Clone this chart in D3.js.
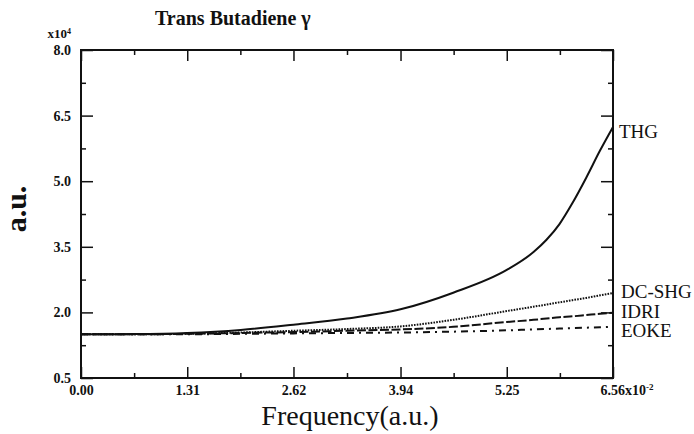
<!DOCTYPE html>
<html>
<head>
<meta charset="utf-8">
<script src="https://cdn.jsdelivr.net/npm/d3@7"></script>
<style>
  body { margin: 0; background: #fff; }
  text { font-family: "Liberation Serif", "Times New Roman", serif; fill: #111; }
</style>
</head>
<body>
<div id="container"></div>
<script>
// values (frequency in 1e-2 a.u., response in 1e4 a.u.)
let freq  = [0, 0.66, 1.31, 1.97, 2.62, 3.28, 3.94, 4.59, 5.25, 5.58, 5.74, 5.90, 6.06, 6.23, 6.40, 6.56];
let thg   = [1.50, 1.505, 1.53, 1.60, 1.72, 1.86, 2.07, 2.45, 2.97, 3.38, 3.66, 4.02, 4.50, 5.08, 5.70, 6.24];
let dcshg = [1.50, 1.50, 1.51, 1.54, 1.58, 1.62, 1.68, 1.83, 2.03, 2.13, 2.18, 2.23, 2.28, 2.33, 2.39, 2.44];
let idri  = [1.50, 1.50, 1.51, 1.53, 1.55, 1.58, 1.61, 1.67, 1.78, 1.83, 1.86, 1.89, 1.91, 1.94, 1.97, 1.99];
let eoke  = [1.50, 1.50, 1.50, 1.51, 1.52, 1.53, 1.54, 1.56, 1.59, 1.61, 1.62, 1.63, 1.64, 1.65, 1.66, 1.67];

let xTicks = [0, 1.31, 2.62, 3.94, 5.25, 6.56];
let xTickLabels = ["0.00", "1.31", "2.62", "3.94", "5.25", "6.56"];
let yTicks = [0.5, 2.0, 3.5, 5.0, 6.5, 8.0];
let yTickLabels = ["0.5", "2.0", "3.5", "5.0", "6.5", "8.0"];
let seriesNames = ["THG", "DC-SHG", "IDRI", "EOKE"];

let w = 694;
let h = 434;
let plotLeft = 81, plotRight = 613, plotTop = 50, plotBottom = 378;

let viz = d3.select("#container")
  .append("svg")
    .attr("width", w)
    .attr("height", h)
;

let xScale = d3.scaleLinear().domain([0, 6.56]).range([plotLeft, plotRight]);
let yScale = d3.scaleLinear().domain([0.5, 8.0]).range([plotBottom, plotTop]);

// minor ticks sit halfway between the major ones
function halves(ticks){
  let out = [];
  for (let i = 0; i < ticks.length - 1; i++) out.push((ticks[i] + ticks[i+1]) / 2);
  return out;
}

function styleAxis(g){
  g.select(".domain").remove();
  g.selectAll(".tick line").attr("stroke", "#111").attr("stroke-width", 1.5);
}

// ticks only, no labels
function bareTicks(axis, pos){
  viz.append("g")
    .attr("transform", pos)
    .call(axis.tickFormat(""))
    .call(styleAxis)
    .selectAll("text").remove();
}

// bottom axis with labels
let xAxisGroup = viz.append("g")
  .attr("transform", "translate(0," + plotBottom + ")")
  .call(d3.axisBottom(xScale).tickValues(xTicks).tickSize(-11).tickPadding(7)
    .tickFormat(function(d, i){ return xTickLabels[i]; }));
styleAxis(xAxisGroup);
xAxisGroup.selectAll("text")
  .attr("font-size", "14px").attr("font-weight", "bold")
  .attr("font-family", "Liberation Serif").attr("fill", "#111");
// last label carries the exponent
xAxisGroup.selectAll(".tick").filter(function(d){ return d == 6.56; }).select("text")
  .attr("text-anchor", "start").attr("x", -13)
  .text("6.56x10")
  .append("tspan").attr("dy", "-0.5em").attr("font-size", "9px").text("-2");

bareTicks(d3.axisBottom(xScale).tickValues(halves(xTicks)).tickSize(-5), "translate(0," + plotBottom + ")");

// top axis
bareTicks(d3.axisTop(xScale).tickValues(xTicks).tickSize(-11), "translate(0," + plotTop + ")");
bareTicks(d3.axisTop(xScale).tickValues(halves(xTicks)).tickSize(-5), "translate(0," + plotTop + ")");

// left axis with labels
let yAxisGroup = viz.append("g")
  .attr("transform", "translate(" + plotLeft + ",0)")
  .call(d3.axisLeft(yScale).tickValues(yTicks).tickSize(-12).tickPadding(10)
    .tickFormat(function(d, i){ return yTickLabels[i]; }));
styleAxis(yAxisGroup);
yAxisGroup.selectAll("text")
  .attr("font-size", "14px").attr("font-weight", "bold")
  .attr("font-family", "Liberation Serif").attr("fill", "#111");

bareTicks(d3.axisLeft(yScale).tickValues(halves(yTicks)).tickSize(-5), "translate(" + plotLeft + ",0)");

// right axis
bareTicks(d3.axisRight(yScale).tickValues(yTicks).tickSize(-12), "translate(" + plotRight + ",0)");
bareTicks(d3.axisRight(yScale).tickValues(halves(yTicks)).tickSize(-5), "translate(" + plotRight + ",0)");

// frame
viz.append("rect")
  .attr("x", plotLeft).attr("y", plotTop)
  .attr("width", plotRight - plotLeft).attr("height", plotBottom - plotTop)
  .attr("fill", "none").attr("stroke", "#111").attr("stroke-width", 2);

// curves
let lineGen = d3.line()
  .x(function(d){ return xScale(d[0]); })
  .y(function(d){ return yScale(d[1]); })
  .curve(d3.curveMonotoneX);

function pairs(values){
  return freq.map(function(f, i){ return [f, values[i]]; });
}

let seriesValues = [thg, dcshg, idri, eoke];
let dashes = [null, "1.6,1.2", "9,2.5", "7,5,2,5"];

seriesValues.forEach(function(vals, i){
  viz.append("path")
    .attr("d", lineGen(pairs(vals)))
    .attr("fill", "none")
    .attr("stroke", "#111")
    .attr("stroke-width", 2)
    .attr("stroke-dasharray", dashes[i]);
});

// series labels on the right
let labelY = [138, 298, 318, 337];
seriesNames.forEach(function(name, i){
  viz.append("text")
    .text(name)
    .attr("x", i == 0 ? 619 : 621)
    .attr("y", labelY[i])
    .attr("font-size", "19px");
});

// title
viz.append("text")
  .attr("x", 155).attr("y", 25)
  .attr("font-size", "20px").attr("font-weight", "bold")
  .text("Trans Butadiene γ");

// y multiplier
viz.append("text")
  .attr("x", 71).attr("y", 38)
  .attr("text-anchor", "end")
  .attr("font-size", "13px").attr("font-weight", "bold")
  .text("x10")
  .append("tspan").attr("dy", "-0.5em").attr("font-size", "8px").text("4");

// axis titles
viz.append("text")
  .attr("transform", "translate(26,209) rotate(-90)")
  .attr("text-anchor", "middle")
  .attr("font-size", "30px").attr("font-weight", "bold")
  .text("a.u.");

viz.append("text")
  .attr("x", 350).attr("y", 425)
  .attr("text-anchor", "middle")
  .attr("font-size", "28px")
  .text("Frequency(a.u.)");
</script>
</body>
</html>
